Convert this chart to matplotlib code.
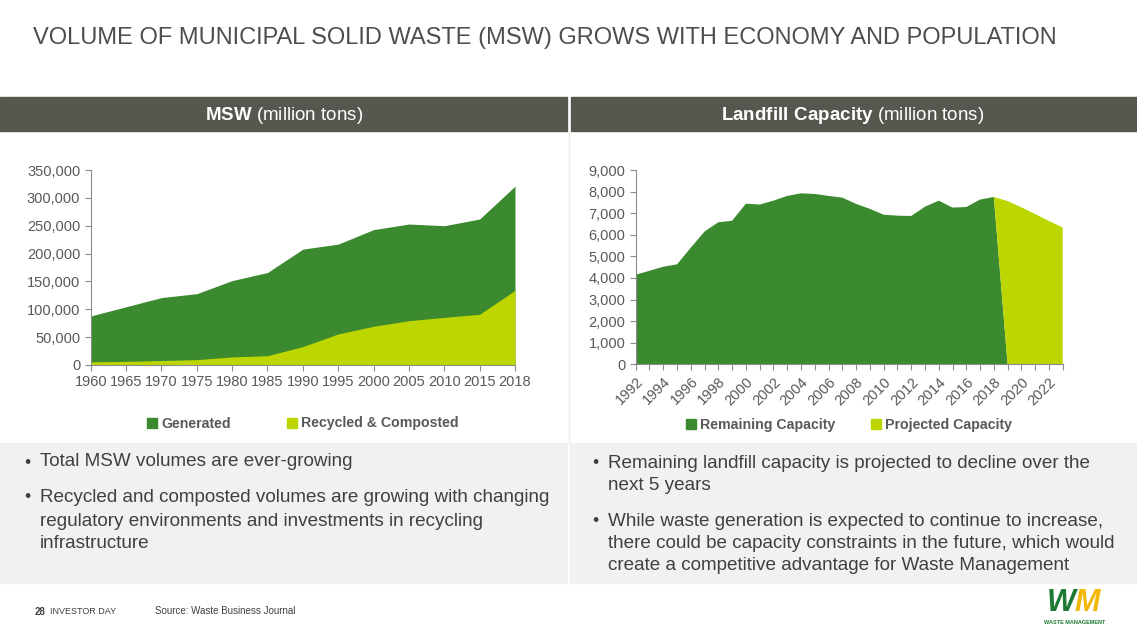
import numpy as np
import matplotlib.pyplot as plt
from matplotlib.patches import Rectangle, Patch

plt.rcParams['font.family'] = ['Liberation Sans', 'DejaVu Sans']
plt.rcParams['mathtext.fontset'] = 'custom'
plt.rcParams['mathtext.rm'] = 'Liberation Sans'
plt.rcParams['mathtext.bf'] = 'Liberation Sans:bold'

# MSW data (left chart)
msw_years = ["1960", "1965", "1970", "1975", "1980", "1985", "1990",
             "1995", "2000", "2005", "2010", "2015", "2018"]
generated = [88000, 104500, 121000, 128000, 151500, 166000, 208000,
             217000, 243000, 253000, 250000, 262000, 321000]
recycled = [5600, 6500, 8000, 9600, 14500, 16700, 33000,
            55800, 69500, 79500, 85500, 91000, 134000]

# Landfill capacity data (right chart)
cap_years = list(range(1992, 2024))
remaining = [4150, 4330, 4520, 4630, 5400, 6150, 6580, 6650, 7440, 7400,
             7580, 7800, 7920, 7890, 7800, 7720, 7430, 7200, 6930, 6885,
             6870, 7300, 7580, 7260, 7285, 7630, 7750, 0, 0, 0, 0, 0]
projected = [0] * 27 + [7560, 7270, 6960, 6640, 6340]

DARK = "#3b8a2f"
LIME = "#bed600"
TXT = "#595959"
HDR = "#58574f"

W, H = 1137, 635
fig = plt.figure(figsize=(W / 100, H / 100), dpi=100)
fig.patch.set_facecolor("white")


def px_rect(x0, y0, x1, y1, color):
    fig.patches.append(Rectangle((x0 / W, 1 - y1 / H), (x1 - x0) / W, (y1 - y0) / H,
                                 transform=fig.transFigure, color=color, zorder=0))


def px_text(x, y, s, **kw):
    fig.text(x / W, 1 - y / H, s, **kw)


# title
px_text(33, 38, "VOLUME OF MUNICIPAL SOLID WASTE (MSW) GROWS WITH ECONOMY AND POPULATION",
        fontsize=17, color="#4d4d4a", va="center", ha="left")

# header bars
px_rect(0, 97, 567, 131, HDR)
px_rect(571, 97, 1137, 131, HDR)
px_text(284, 115, r"$\bf{MSW}$ (million tons)", color="white", fontsize=13.5,
        ha="center", va="center")
px_text(853, 115, r"$\bf{Landfill\ Capacity}$ (million tons)", color="white",
        fontsize=13.5, ha="center", va="center")
fig.lines.append(plt.Line2D([569 / W, 569 / W], [1 - 131 / H, 1 - 443 / H],
                            transform=fig.transFigure, color="#ececec", lw=1))

# bullet panels
px_rect(0, 443, 567, 583, "#f1f1f0")
px_rect(570, 443, 1137, 583, "#f1f1f0")
bfs = 13.6
bcol = "#404040"
left_lines = [(462, True, "Total MSW volumes are ever-growing"),
              (497, True, "Recycled and composted volumes are growing with changing"),
              (521, False, "regulatory environments and investments in recycling"),
              (544, False, "infrastructure")]
for y, bullet, s in left_lines:
    if bullet:
        px_text(24, y, "•", fontsize=bfs - 1, color=bcol, va="center")
    px_text(40, y, s, fontsize=bfs, color=bcol, va="center")
right_lines = [(463, True, "Remaining landfill capacity is projected to decline over the"),
               (485, False, "next 5 years"),
               (521, True, "While waste generation is expected to continue to increase,"),
               (544, False, "there could be capacity constraints in the future, which would"),
               (566, False, "create a competitive advantage for Waste Management")]
for y, bullet, s in right_lines:
    if bullet:
        px_text(592, y, "•", fontsize=bfs - 1, color=bcol, va="center")
    px_text(608, y, s, fontsize=bfs, color=bcol, va="center")

# footer
px_text(35, 612, "28", fontsize=7, fontweight="bold", color="#404040", va="center")
px_text(50, 612, "INVESTOR DAY", fontsize=6.5, color="#404040", va="center")
px_text(155, 611, "Source: Waste Business Journal", fontsize=7, color="#404040", va="center")
px_text(1076, 603, "W", fontsize=22, fontweight="heavy", fontstyle="italic",
        color="#1d7a35", ha="right", va="center")
px_text(1074, 603, "M", fontsize=22, fontweight="heavy", fontstyle="italic",
        color="#f2b705", ha="left", va="center")
px_text(1075, 622, "WASTE MANAGEMENT", fontsize=4, fontweight="bold",
        color="#1d7a35", ha="center", va="center")


def style_axis(ax):
    for s in ["top", "right"]:
        ax.spines[s].set_visible(False)
    for s in ["left", "bottom"]:
        ax.spines[s].set_color("#8c8c8c")
        ax.spines[s].set_linewidth(0.8)
    ax.tick_params(colors="#8c8c8c", labelcolor=TXT, labelsize=10.5, length=4, width=0.8)
    ax.set_facecolor("white")


# left chart
ax1 = fig.add_axes([90.7 / W, 1 - 365 / H, 424.3 / W, 195 / H])
x1 = np.arange(len(msw_years))
ax1.fill_between(x1, 0, generated, color=DARK, lw=0)
ax1.fill_between(x1, 0, recycled, color=LIME, lw=0)
ax1.set_xlim(0, len(msw_years) - 1)
ax1.set_ylim(0, 350000)
ax1.set_yticks(np.arange(0, 350001, 50000))
ax1.set_yticklabels([f"{v:,}" for v in range(0, 350001, 50000)])
ax1.set_xticks(x1)
ax1.set_xticklabels(msw_years)
style_axis(ax1)
ax1.legend(handles=[Patch(color=DARK, label="Generated"),
                    Patch(color=LIME, label="Recycled & Composted")],
           loc="center", bbox_to_anchor=(0.5, -0.3), ncol=2, frameon=False,
           handlelength=0.7, handleheight=0.7, handletextpad=0.3, columnspacing=4,
           prop={"weight": "bold", "size": 10.2}, labelcolor=TXT)

# right chart
ax2 = fig.add_axes([635.7 / W, 1 - 364.3 / H, 427 / W, 194.3 / H])
x2 = np.arange(len(cap_years))
ax2.stackplot(x2, remaining, projected, colors=[DARK, LIME], lw=0)
ax2.set_xlim(0, len(cap_years) - 1)
ax2.set_ylim(0, 9000)
ax2.set_yticks(np.arange(0, 9001, 1000))
ax2.set_yticklabels([f"{v:,}" for v in range(0, 9001, 1000)])
ax2.set_xticks(x2)
ax2.set_xticklabels([str(y) if (y - 1992) % 2 == 0 else "" for y in cap_years],
                    rotation=45, ha="right", rotation_mode="anchor")
style_axis(ax2)
ax2.legend(handles=[Patch(color=DARK, label="Remaining Capacity"),
                    Patch(color=LIME, label="Projected Capacity")],
           loc="center", bbox_to_anchor=(0.5, -0.31), ncol=2, frameon=False,
           handlelength=0.7, handleheight=0.7, handletextpad=0.3, columnspacing=2.5,
           prop={"weight": "bold", "size": 10.2}, labelcolor=TXT)

fig.savefig("out.png", dpi=100)
